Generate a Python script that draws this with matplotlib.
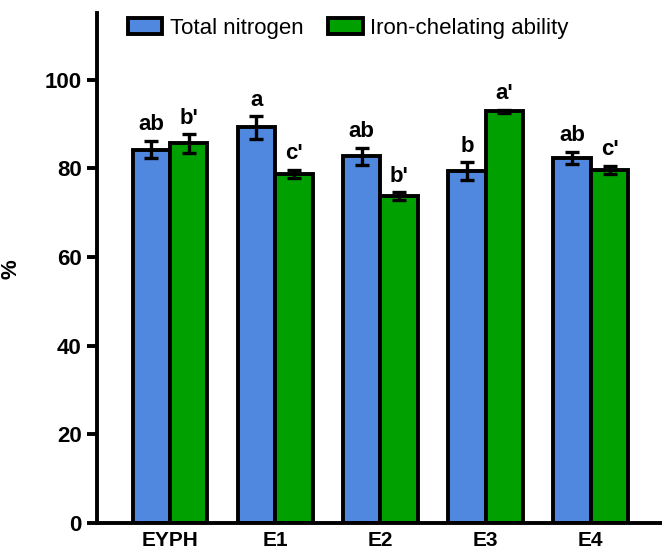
import matplotlib.pyplot as plt
import numpy as np

plt.rcParams['font.family'] = ['Liberation Sans', 'DejaVu Sans']

groups = ['EYPH', 'E1', 'E2', 'E3', 'E4']
nitrogen = [84.2, 89.2, 82.7, 79.3, 82.3]
nitrogen_err = [2.0, 2.6, 1.9, 2.0, 1.4]
chelating = [85.6, 78.8, 73.7, 92.8, 79.6]
chelating_err = [2.1, 0.9, 0.9, 0.4, 1.0]
nitrogen_sig = ['ab', 'a', 'ab', 'b', 'ab']
chelating_sig = ["b'", "c'", "b'", "a'", "c'"]

blue = '#4F88DE'
green = '#00A000'

fig = plt.figure(figsize=(6.62, 5.54), dpi=100)
ax = fig.add_axes([97 / 662, 1 - 523 / 554, 565 / 662, 510 / 554])

x = np.arange(len(groups))
w = 0.356
lw = 2.8

ax.bar(x - w / 2, nitrogen, w, color=blue, edgecolor='black', linewidth=lw,
       label='Total nitrogen', zorder=2)
ax.bar(x + w / 2, chelating, w, color=green, edgecolor='black', linewidth=lw,
       label='Iron-chelating ability', zorder=2)
ax.errorbar(x - w / 2, nitrogen, yerr=nitrogen_err, fmt='none', ecolor='black',
            elinewidth=2.4, capsize=4.7, capthick=2.4, zorder=3)
ax.errorbar(x + w / 2, chelating, yerr=chelating_err, fmt='none', ecolor='black',
            elinewidth=2.4, capsize=4.7, capthick=2.4, zorder=3)

# significance letters above each error bar
for xi, v, e, s in zip(x - w / 2, nitrogen, nitrogen_err, nitrogen_sig):
    ax.text(xi, v + e + 1.2, s, ha='center', va='bottom', fontsize=16,
            fontweight='bold')
for xi, v, e, s in zip(x + w / 2, chelating, chelating_err, chelating_sig):
    ax.text(xi, v + e + 1.2, s, ha='center', va='bottom', fontsize=16,
            fontweight='bold')

ax.set_xlim(-0.694, 4.677)
ax.set_ylim(0, 115)
ax.set_yticks([0, 20, 40, 60, 80, 100])
ax.set_xticks(x)
ax.set_xticklabels(groups, fontsize=15, fontweight='bold')
ax.tick_params(axis='x', length=0, pad=6)
ax.tick_params(axis='y', length=7, width=lw, labelsize=16, pad=4)
for lab in ax.get_yticklabels():
    lab.set_fontweight('bold')

for side in ['top', 'right']:
    ax.spines[side].set_visible(False)
for side in ['left', 'bottom']:
    ax.spines[side].set_linewidth(lw)

ax.set_ylabel('%', fontsize=16, fontweight='bold')
ax.yaxis.set_label_coords(-0.133, 0.498)

ax.legend(loc='upper left', bbox_to_anchor=(22 / 565, 1 + 4 / 510), ncol=2,
          frameon=False, fontsize=16, handlelength=1.55, handleheight=0.75,
          columnspacing=1.1, handletextpad=0.35, borderaxespad=0)

fig.savefig('out.png', dpi=100)
